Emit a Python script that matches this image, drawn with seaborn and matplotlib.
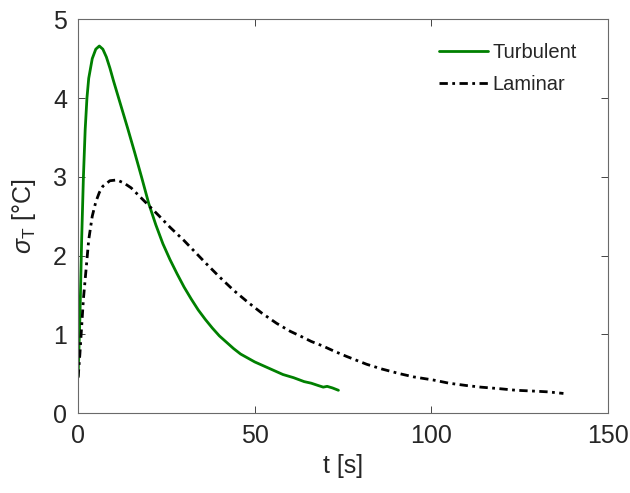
import pandas as pd
import numpy as np
import matplotlib
matplotlib.use("Agg")
import matplotlib.pyplot as plt
import seaborn as sns

# ***** values ***** #
turb_t = [0, 0.5, 1, 1.5, 2, 2.5, 3, 4, 5, 6, 7, 8, 9, 10, 12, 14, 16, 18, 20, 22,
          24, 26, 28, 30, 32, 34, 36, 38, 40, 42, 44, 46, 48, 50, 52, 55, 58, 61,
          64, 66, 68, 69.4, 70.5, 72, 73.7]
turb_sigma = [0.47, 1.2, 2.2, 3.0, 3.6, 4.0, 4.25, 4.5, 4.62, 4.66, 4.62, 4.52, 4.38,
              4.22, 3.92, 3.62, 3.31, 2.99, 2.66, 2.39, 2.15, 1.95, 1.77, 1.6, 1.45,
              1.31, 1.19, 1.08, 0.98, 0.9, 0.82, 0.75, 0.7, 0.65, 0.61, 0.55, 0.49,
              0.45, 0.40, 0.38, 0.35, 0.33, 0.34, 0.32, 0.29]

lam_t = [0, 0.5, 1, 1.5, 2, 2.5, 3, 4, 5, 6, 7, 9, 11, 13, 15, 17, 19.9, 23, 26, 30,
         33, 36, 40, 44, 48, 52, 56.2, 60, 63.3, 66, 69.4, 72.3, 76, 81.7, 86, 91.1,
         95, 100.6, 105, 110, 114, 119.4, 124, 128.9, 133, 137.4]
lam_sigma = [0.45, 0.75, 1.1, 1.45, 1.7, 1.95, 2.2, 2.5, 2.68, 2.8, 2.88, 2.95, 2.96,
             2.92, 2.86, 2.77, 2.64, 2.5, 2.36, 2.19, 2.05, 1.91, 1.73, 1.56, 1.41,
             1.27, 1.14, 1.04, 0.97, 0.91, 0.85, 0.79, 0.72, 0.62, 0.56, 0.50, 0.46,
             0.42, 0.38, 0.35, 0.33, 0.31, 0.29, 0.28, 0.27, 0.25]

series = ["Turbulent", "Laminar"]
x_ticks = [0, 50, 100, 150]
y_ticks = [0, 1, 2, 3, 4, 5]

df = pd.concat([
    pd.DataFrame({"t": turb_t, "sigma": turb_sigma, "flow": series[0]}),
    pd.DataFrame({"t": lam_t, "sigma": lam_sigma, "flow": series[1]}),
], ignore_index=True)

sns.set_style("ticks")
plt.rcParams["font.family"] = ["Liberation Sans", "DejaVu Sans"]
plt.rcParams["mathtext.fontset"] = "custom"
plt.rcParams["mathtext.it"] = "Liberation Sans:italic"
plt.rcParams["mathtext.rm"] = "Liberation Sans"

fig = plt.figure(figsize=(6.3, 4.93), dpi=100)
ax = fig.add_axes([0.124, 0.162, 0.841, 0.799])

sns.lineplot(data=df, x="t", y="sigma", hue="flow", style="flow",
             palette={"Turbulent": "#008000", "Laminar": "black"},
             dashes={"Turbulent": "", "Laminar": (3, 1.6, 1, 1.6)},
             estimator=None, sort=False, linewidth=2, ax=ax)

ax.set_xlim(0, 150)
ax.set_ylim(0, 5)
ax.set_xticks(x_ticks)
ax.set_yticks(y_ticks)
ax.set_xlabel("t [s]", fontsize=18, color="#262626", labelpad=4)
ax.set_ylabel(r"$\sigma_{\mathrm{T}}$ [°C]", fontsize=18, color="#262626", labelpad=11)
ax.tick_params(direction="in", length=5, width=0.6, labelsize=18,
               colors="#262626", top=True, right=True, pad=8)
for s in ax.spines.values():
    s.set_visible(True)
    s.set_linewidth(0.8)
    s.set_color("#6a6a6a")

handles, labels = ax.get_legend_handles_labels()
ax.legend(handles, labels, loc="upper right", frameon=False, fontsize=14.5,
          handlelength=2.4, handletextpad=0.25, labelspacing=0.62,
          bbox_to_anchor=(0.976, 0.985))

fig.savefig("out.png", dpi=100)
